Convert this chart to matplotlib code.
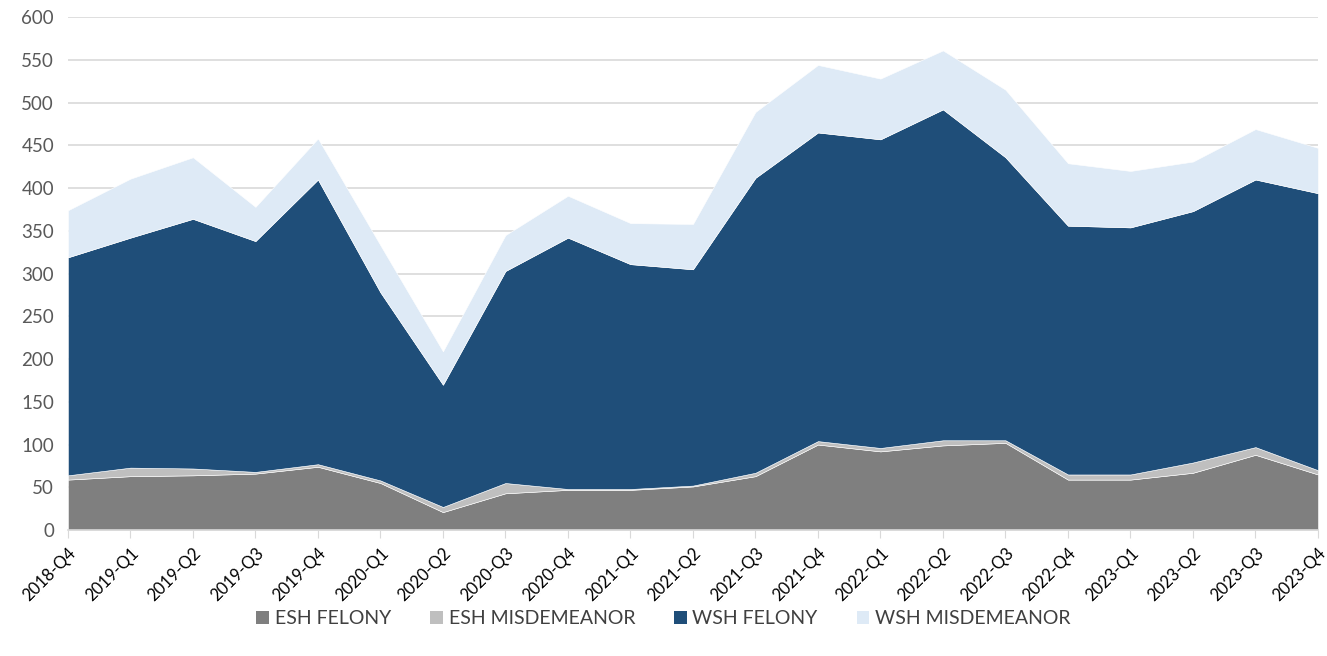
import matplotlib
matplotlib.use("Agg")
import matplotlib.pyplot as plt
from matplotlib.patches import Patch

plt.rcParams['font.family'] = ['Lato', 'DejaVu Sans']

quarters = ["2018-Q4", "2019-Q1", "2019-Q2", "2019-Q3", "2019-Q4", "2020-Q1", "2020-Q2",
            "2020-Q3", "2020-Q4", "2021-Q1", "2021-Q2", "2021-Q3", "2021-Q4", "2022-Q1",
            "2022-Q2", "2022-Q3", "2022-Q4", "2023-Q1", "2023-Q2", "2023-Q3", "2023-Q4"]

esh_felony = [59, 63, 64, 66, 74, 55, 21, 43, 47, 47, 51, 63, 100, 92, 99, 102, 59, 59, 67, 88, 65]
esh_misd = [5, 10, 8, 2, 3, 3, 6, 12, 1, 1, 1, 4, 4, 4, 6, 3, 6, 6, 12, 9, 5]
wsh_felony = [255, 269, 292, 270, 333, 220, 143, 248, 294, 263, 253, 345, 361, 361, 387, 331, 291, 289, 294, 313, 324]
wsh_misd = [55, 69, 72, 40, 48, 55, 39, 42, 49, 48, 53, 77, 79, 71, 69, 79, 73, 66, 58, 59, 53]

labels = ["ESH FELONY", "ESH MISDEMEANOR", "WSH FELONY", "WSH MISDEMEANOR"]
colors = ["#7f7f7f", "#bfbfbf", "#1f4e79", "#deeaf6"]

fig = plt.figure(figsize=(13.27, 6.56), dpi=100)
ax = fig.add_axes([0.0512, 0.192, 0.942, 0.782])

x = list(range(len(quarters)))
ax.stackplot(x, esh_felony, esh_misd, wsh_felony, wsh_misd, colors=colors,
             edgecolor="white", linewidth=0.4, zorder=2)

ax.set_xlim(0, len(quarters) - 1)
ax.set_ylim(0, 600)
ax.set_yticks(range(0, 601, 50))
ax.grid(axis="y", color="#d9d9d9", linewidth=1.2, zorder=0)
ax.set_axisbelow(True)

for s in ["top", "right", "left"]:
    ax.spines[s].set_visible(False)
ax.spines["bottom"].set_color("#d9d9d9")
ax.spines["bottom"].set_linewidth(1.2)

ax.tick_params(axis="y", length=0, labelsize=13.5, labelcolor="#595959", pad=10)
ax.tick_params(axis="x", length=6, color="#d9d9d9", labelsize=12, labelcolor="black", pad=5)
ax.set_xticks(x)
ax.set_xticklabels(quarters, rotation=45, ha="right", rotation_mode="anchor")

handles = [Patch(facecolor=c, edgecolor="none") for c in colors]
fig.legend(handles, labels, loc="center", bbox_to_anchor=(0.5, 0.057), ncol=4,
           frameon=False, fontsize=14, handlelength=0.65, handleheight=0.65,
           columnspacing=2.0, handletextpad=0.3, labelcolor="#404040")

fig.savefig("out.png", dpi=100)
